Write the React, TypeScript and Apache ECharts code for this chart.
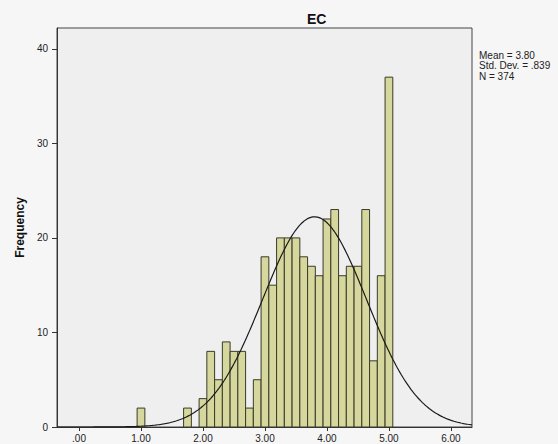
import React, { useEffect, useRef } from "react";
import * as echarts from "echarts";

// Histogram of EC scores: bin centres (width 0.125) and their frequencies
const binCenters = [
  1.0, 1.75, 2.0, 2.125, 2.25, 2.375, 2.5, 2.625, 2.75, 2.875, 3.0, 3.125, 3.25,
  3.375, 3.5, 3.625, 3.75, 3.875, 4.0, 4.125, 4.25, 4.375, 4.5, 4.625, 4.75,
  4.875, 5.0,
];
const frequencies = [
  2, 2, 3, 8, 5, 9, 8, 8, 2, 5, 18, 15, 20, 20, 20, 18, 17, 16, 22, 23, 16, 17,
  17, 23, 7, 16, 37,
];
const BIN_WIDTH = 0.125;

// Summary statistics
const MEAN = 3.8;
const STD_DEV = 0.839;
const N = 374;
const statLines = ["Mean = 3.80", "Std. Dev. = .839", "N = 374"];

const xTicks = [0, 1, 2, 3, 4, 5, 6];
const yTicks = [0, 10, 20, 30, 40];
const X_MIN = -0.355;
const X_MAX = 6.34;
const Y_MAX = 42.2;

// Fitted normal curve scaled to counts per bin
function normalCurve(): number[][] {
  const pts: number[][] = [];
  const steps = 300;
  for (let i = 0; i <= steps; i++) {
    const x = X_MIN + ((X_MAX - X_MIN) * i) / steps;
    const z = (x - MEAN) / STD_DEV;
    const y =
      (N * BIN_WIDTH * Math.exp(-0.5 * z * z)) / (STD_DEV * Math.sqrt(2 * Math.PI));
    pts.push([x, y]);
  }
  return pts;
}

export default function App() {
  const ref = useRef<HTMLDivElement>(null);

  useEffect(() => {
    if (!ref.current) return;
    const chart = echarts.init(ref.current, undefined, { renderer: "svg" });
    const font = "Arial, 'Liberation Sans', sans-serif";

    chart.setOption({
      animation: false,
      backgroundColor: "#f6f6f6",
      textStyle: { fontFamily: font },
      title: {
        text: "EC",
        left: 302,
        top: 7,
        textStyle: { fontSize: 14, fontWeight: "bold", color: "#111", fontFamily: font },
      },
      grid: {
        left: 57,
        right: 86,
        top: 28,
        bottom: 17,
        show: true,
        backgroundColor: "#efefef",
        borderColor: "#444",
        borderWidth: 1,
      },
      xAxis: {
        type: "value",
        min: X_MIN,
        max: X_MAX,
        splitLine: { show: false },
        axisLine: { show: true, onZero: false, lineStyle: { color: "#333" } },
        axisTick: {
          show: true,
          length: 4,
          customValues: xTicks,
          lineStyle: { color: "#333" },
        },
        axisLabel: {
          customValues: xTicks,
          margin: 6,
          fontSize: 10,
          color: "#222",
          formatter: (v: number) => (v === 0 ? ".00" : v.toFixed(2)),
        },
      },
      yAxis: {
        type: "value",
        min: 0,
        max: Y_MAX,
        name: "Frequency",
        nameLocation: "middle",
        nameGap: 29,
        nameTextStyle: { fontSize: 12, fontWeight: "bold", color: "#111" },
        splitLine: { show: false },
        axisLine: { show: true, onZero: false, lineStyle: { color: "#333" } },
        axisTick: {
          show: true,
          length: 5,
          customValues: yTicks,
          lineStyle: { color: "#333" },
        },
        axisLabel: {
          customValues: yTicks,
          margin: 9,
          fontSize: 10,
          color: "#222",
        },
      },
      graphic: [
        {
          type: "text",
          left: 479,
          top: 50,
          style: {
            text: statLines.join("\n"),
            fontSize: 10,
            lineHeight: 10.5,
            fill: "#222",
            fontFamily: font,
          },
        },
      ],
      series: [
        {
          type: "custom",
          data: binCenters.map((c, i) => [c, frequencies[i]]),
          encode: { x: 0, y: 1 },
          z: 2,
          renderItem: (params: any, api: any) => {
            const c = api.value(0);
            const f = api.value(1);
            const p0 = api.coord([c - BIN_WIDTH / 2, f]);
            const p1 = api.coord([c + BIN_WIDTH / 2, 0]);
            return {
              type: "rect",
              shape: { x: p0[0], y: p0[1], width: p1[0] - p0[0], height: p1[1] - p0[1] },
              style: { fill: "#d6d79c", stroke: "#3a3a2a", lineWidth: 1 },
            };
          },
        },
        {
          type: "line",
          data: normalCurve(),
          showSymbol: false,
          z: 3,
          lineStyle: { color: "#1a1a1a", width: 1.2 },
          clip: true,
        },
      ],
    });

    return () => chart.dispose();
  }, []);

  return (
    <div
      ref={ref}
      style={{ position: "fixed", left: 0, top: 0, width: 558, height: 444 }}
    />
  );
}
